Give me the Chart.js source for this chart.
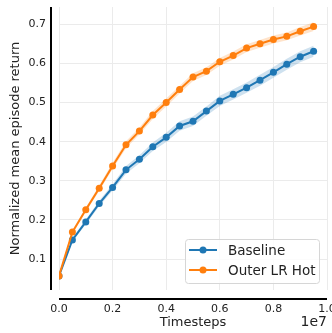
<!DOCTYPE html>
<html>
<head>
<meta charset="utf-8">
<script src="https://cdn.jsdelivr.net/npm/chart.js@4"></script>
<style>
  body { margin: 0; background: #fff; }
  canvas { display: block; }
</style>
</head>
<body>
<canvas id="mycanvas" width="332" height="333"></canvas>
<script>
const timesteps = [0, 5e5, 1e6, 1.5e6, 2e6, 2.5e6, 3e6, 3.5e6, 4e6, 4.5e6, 5e6, 5.5e6, 6e6, 6.5e6, 7e6, 7.5e6, 8e6, 8.5e6, 9e6, 9.5e6];
const baseline = [0.057, 0.149, 0.195, 0.242, 0.283, 0.328, 0.355, 0.387, 0.411, 0.440, 0.452, 0.478, 0.504, 0.521, 0.538, 0.557, 0.577, 0.598, 0.617, 0.631];
const baselineStd = [0.003, 0.005, 0.006, 0.007, 0.008, 0.010, 0.010, 0.011, 0.012, 0.012, 0.012, 0.012, 0.013, 0.013, 0.013, 0.014, 0.014, 0.014, 0.014, 0.014];
const outerHot = [0.057, 0.169, 0.226, 0.281, 0.338, 0.392, 0.427, 0.468, 0.500, 0.533, 0.565, 0.580, 0.604, 0.620, 0.639, 0.650, 0.661, 0.669, 0.682, 0.694];
const outerHotStd = [0.003, 0.005, 0.006, 0.007, 0.008, 0.009, 0.009, 0.010, 0.010, 0.010, 0.010, 0.010, 0.010, 0.010, 0.010, 0.010, 0.010, 0.010, 0.011, 0.011];
const xTicks = [0, 2e6, 4e6, 6e6, 8e6, 1e7];
const yTicks = [0.1, 0.2, 0.3, 0.4, 0.5, 0.6, 0.7];
const seriesNames = ["Baseline", "Outer LR Hot"];

const BLUE = "#1f77b4";
const ORANGE = "#ff7f0e";
const FONT = "'DejaVu Sans', sans-serif";

function pts(vals, off) {
    return timesteps.map((t, i) => ({ x: t, y: vals[i] + off[i] }));
}
function neg(a) { return a.map(v => -v); }
const zero = timesteps.map(() => 0);

function band(vals, std, color) {
    return [
        { data: pts(vals, std), borderWidth: 0, pointRadius: 0, fill: false, order: 5 },
        { data: pts(vals, neg(std)), borderWidth: 0, pointRadius: 0, fill: "-1", backgroundColor: color, order: 5 }
    ];
}

function line(name, vals, color, order) {
    return {
        label: name,
        data: pts(vals, zero),
        borderColor: color,
        backgroundColor: color,
        pointBackgroundColor: color,
        pointBorderColor: color,
        pointRadius: 3.5,
        pointBorderWidth: 0,
        borderWidth: 2,
        fill: false,
        order: order
    };
}

// offset spines, "1e7" offset text and legend box
const decor = {
    id: "decor",
    afterDraw(chart) {
        const c = chart.ctx, a = chart.chartArea;
        c.save();
        c.strokeStyle = "#000";
        c.lineWidth = 2;
        c.beginPath();
        c.moveTo(a.left - 8, a.top);
        c.lineTo(a.left - 8, a.bottom);
        c.moveTo(a.left, a.bottom + 9);
        c.lineTo(a.right, a.bottom + 9);
        c.stroke();

        c.fillStyle = "#222";
        c.font = "14px " + FONT;
        c.textAlign = "right";
        c.textBaseline = "middle";
        c.fillText("1e7", a.right, 322);

        // legend
        const bx = 185, by = 239, bw = 134, bh = 44;
        c.beginPath();
        c.roundRect(bx + 0.5, by + 0.5, bw, bh, 3);
        c.fillStyle = "rgba(255,255,255,0.85)";
        c.fill();
        c.strokeStyle = "#d6d6d6";
        c.lineWidth = 1;
        c.stroke();
        const cols = [BLUE, ORANGE];
        c.font = "13.5px " + FONT;
        c.textAlign = "left";
        seriesNames.forEach((n, i) => {
            const y = 250 + i * 20;
            c.strokeStyle = cols[i];
            c.lineWidth = 2;
            c.beginPath();
            c.moveTo(189, y);
            c.lineTo(217, y);
            c.stroke();
            c.fillStyle = cols[i];
            c.beginPath();
            c.arc(203, y, 3.5, 0, Math.PI * 2);
            c.fill();
            c.fillStyle = "#222";
            c.fillText(n, 228, y + 1);
        });
        c.restore();
    }
};

const ctx = document.getElementById("mycanvas").getContext("2d");
const chart = new Chart(ctx, {
    type: "line",
    data: {
        datasets: [
            line(seriesNames[1], outerHot, ORANGE, 0),
            line(seriesNames[0], baseline, BLUE, 1),
            ...band(outerHot, outerHotStd, "rgba(255,127,14,0.22)"),
            ...band(baseline, baselineStd, "rgba(31,119,180,0.22)")
        ]
    },
    options: {
        responsive: false,
        animation: false,
        layout: { padding: { top: 7, right: 5, left: 0, bottom: 0 } },
        plugins: {
            legend: { display: false },
            tooltip: { enabled: false }
        },
        scales: {
            x: {
                type: "linear",
                min: 0,
                max: 1e7,
                afterBuildTicks: s => { s.ticks = xTicks.map(v => ({ value: v })); },
                afterFit: s => { s.height = 43; s.paddingLeft = 0; s.paddingRight = 0; },
                grid: { color: "#ebebeb", drawTicks: false },
                border: { display: false },
                ticks: {
                    padding: 13,
                    color: "#222",
                    font: { family: FONT, size: 11 },
                    maxRotation: 0,
                    callback: v => (v / 1e7).toFixed(1)
                },
                title: {
                    display: true,
                    text: "Timesteps",
                    color: "#222",
                    font: { family: FONT, size: 13 },
                    padding: { top: 0, bottom: 3 }
                }
            },
            y: {
                min: 0.021,
                max: 0.744,
                afterBuildTicks: s => { s.ticks = yTicks.map(v => ({ value: v })); },
                afterFit: s => { s.width = 59; s.paddingTop = 0; s.paddingBottom = 0; },
                grid: { color: "#ebebeb", drawTicks: false },
                border: { display: false },
                ticks: {
                    padding: 13,
                    color: "#222",
                    font: { family: FONT, size: 11 },
                    callback: v => v.toFixed(1)
                },
                title: {
                    display: true,
                    text: "Normalized mean episode return",
                    color: "#222",
                    font: { family: FONT, size: 13 },
                    padding: { top: 8, bottom: 0 }
                }
            }
        }
    },
    plugins: [decor]
});
</script>
</body>
</html>
